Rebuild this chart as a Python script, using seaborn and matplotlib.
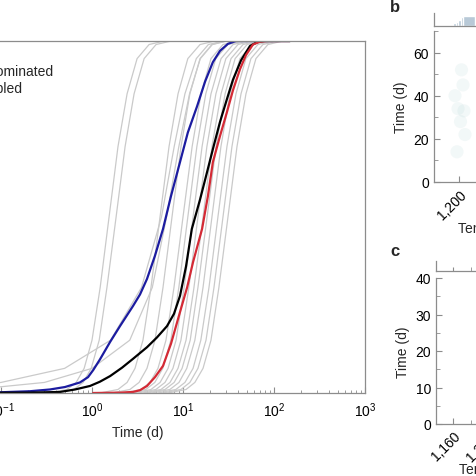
"""Cumulative fraction of time curves (panel a) with temperature-time panels (b, c), cropped."""
import matplotlib
matplotlib.use("Agg")
import matplotlib.pyplot as plt
import matplotlib.ticker as mticker
import numpy as np
import pandas as pd
import seaborn as sns

# ---- panel a data: cumulative fraction vs time (d) ----
blue_time = [0.01, 0.0975, 0.208, 0.345, 0.505, 0.738, 0.904, 1.03, 1.22, 1.58, 2.03, 2.82, 3.37,
             4.02, 4.92, 6.03, 7.39, 9.27, 11.3, 14.3, 17.5, 21.3, 25.5, 31.2, 38.2, 150]
blue_frac = [0.0, 0.002, 0.005, 0.01, 0.017, 0.03, 0.045, 0.065, 0.095, 0.145, 0.19, 0.247, 0.28,
             0.324, 0.39, 0.466, 0.56, 0.656, 0.74, 0.815, 0.885, 0.94, 0.972, 0.992, 1.0, 1.0]

black_time = [0.01, 0.208, 0.445, 0.65, 0.951, 1.22, 1.58, 2.14, 2.82, 4.02, 5.18, 6.67, 7.96, 9.27,
              10.8, 12.5, 15.4, 18.4, 21.9, 25.5, 30.4, 35.4, 43.4, 54.5, 66.7, 79.6, 150]
black_frac = [0.0, 0.001, 0.003, 0.01, 0.02, 0.032, 0.048, 0.072, 0.097, 0.13, 0.158, 0.19, 0.225,
              0.276, 0.36, 0.466, 0.55, 0.628, 0.705, 0.77, 0.835, 0.89, 0.945, 0.986, 0.998, 1.0, 1.0]

red_time = [1.03, 2.03, 2.82, 3.37, 4.02, 4.92, 6.03, 7.38, 9.27, 11.1, 12.9, 16.2, 18.8, 21.3,
            25.5, 30.4, 35.4, 42.3, 49.2, 58.7, 70.0, 83.7, 150]
red_frac = [0.0, 0.001, 0.003, 0.008, 0.02, 0.045, 0.077, 0.14, 0.23, 0.3, 0.372, 0.466, 0.56, 0.656,
            0.73, 0.798, 0.86, 0.92, 0.96, 0.99, 0.998, 1.0, 1.0]

gray_frac = [0, 0.01, 0.03, 0.07, 0.15, 0.3, 0.5, 0.7, 0.85, 0.95, 0.99, 1.0]
gray_times = [
    [0.34, 0.53, 0.67, 0.82, 1.0, 1.23, 1.54, 1.93, 2.43, 3.13, 4.24, 6.2],
    [0.40, 0.63, 0.80, 0.98, 1.2, 1.46, 1.84, 2.31, 2.9, 3.74, 5.06, 7.4],
    [0.01, 0.02, 0.1, 0.5, 1.6, 3.5, 5.8, 8.0, 10.5, 14.0, 19.0, 28.0],
    [0.01, 0.05, 0.3, 1.0, 2.6, 4.6, 6.6, 9.0, 11.8, 15.5, 21.0, 30.0],
    [1.22, 1.93, 2.43, 2.97, 3.63, 4.45, 5.59, 7.02, 8.82, 11.3, 15.4, 22.5],
    [1.66, 2.61, 3.29, 4.02, 4.92, 6.03, 7.57, 9.51, 11.9, 15.4, 20.8, 30.4],
    [2.19, 3.45, 4.34, 5.31, 6.5, 7.96, 10.0, 12.6, 15.8, 20.3, 27.5, 40.2],
    [2.47, 3.9, 4.9, 6.0, 7.35, 9.0, 11.3, 14.2, 17.8, 22.9, 31.1, 45.4],
    [2.83, 4.45, 5.6, 6.85, 8.39, 10.3, 12.9, 16.2, 20.3, 26.2, 35.5, 51.9],
    [3.2, 5.04, 6.34, 7.75, 9.49, 11.6, 14.6, 18.3, 23.0, 29.6, 40.2, 58.7],
    [3.64, 5.73, 7.2, 8.81, 10.8, 13.2, 16.6, 20.8, 26.2, 33.7, 45.7, 66.7],
    [4.03, 6.35, 7.99, 9.77, 12.0, 14.6, 18.4, 23.1, 29.0, 37.4, 50.6, 74.0],
    [4.56, 7.18, 9.03, 11.0, 13.5, 16.6, 20.8, 26.1, 32.8, 42.2, 57.2, 83.6],
    [5.3, 8.35, 10.5, 12.9, 15.7, 19.3, 24.2, 30.4, 38.2, 49.1, 66.6, 97.3],
    [6.02, 9.49, 11.9, 14.6, 17.9, 21.9, 27.5, 34.5, 43.4, 55.8, 75.6, 111],
    [6.83, 10.8, 13.5, 16.6, 20.3, 24.8, 31.2, 39.2, 49.2, 63.3, 85.8, 125],
]
legend_labels = ["Diffusion dominated", "Enabled"]

# ---- panels b, c data: faint temperature-time points ----
b_temp = [1192, 1198, 1203, 1208, 1212, 1196, 1205, 1210]
b_time = [40, 34, 28, 45, 22, 14, 52, 33]
b_hist_temp = [1195, 1200, 1205, 1210, 1215, 1220]
b_hist_count = [1, 2, 3, 5, 7, 8]

c_temp = [1195, 1200, 1205, 1198]
c_time = [20, 24, 17, 13]

BLUE = "#1c1ca0"
RED = "#d42a35"
GRAY = "#cacaca"
SPINE = "#8c8c8c"

sns.set_style("ticks")
plt.rcParams["font.family"] = ["Liberation Sans", "DejaVu Sans"]
plt.rcParams["mathtext.fontset"] = "custom"
plt.rcParams["mathtext.rm"] = "Liberation Sans"
plt.rcParams["font.size"] = 10

W, H = 476, 477
fig = plt.figure(figsize=(W / 100, H / 100), dpi=100)


def box(left, top, right, bottom):
    """Axes rectangle from pixel edges."""
    return [left / W, 1 - bottom / H, (right - left) / W, (bottom - top) / H]


def grey_spines(a, sides):
    for s in sides:
        a.spines[s].set_color(SPINE)
        a.spines[s].set_linewidth(0.9)


# ---------------- panel a ----------------
ax = fig.add_axes(box(-90, 42, 365, 394))
ax.set_xscale("log")

rows = []
for i, t_list in enumerate(gray_times):
    for t, f in zip(t_list, gray_frac):
        rows.append({"time": t, "frac": f, "curve": f"g{i}"})
gray_df = pd.DataFrame(rows)
sns.lineplot(data=gray_df, x="time", y="frac", units="curve", estimator=None,
             sort=False, color=GRAY, lw=0.9, ax=ax)

for t, f, c in [(blue_time, blue_frac, BLUE), (black_time, black_frac, "black"),
                (red_time, red_frac, RED)]:
    sns.lineplot(x=t, y=f, sort=False, estimator=None, color=c, lw=1.6, ax=ax)

ax.set_xlim(1e-2, 1e3)
ax.set_ylim(0, 1)
ax.set_yticks([])
ax.set_ylabel("")
ax.set_xlabel("Time (d)", fontsize=10, labelpad=5)
ax.xaxis.set_major_locator(mticker.LogLocator(base=10, numticks=10))
ax.xaxis.set_minor_locator(mticker.LogLocator(base=10, subs=np.arange(2, 10), numticks=10))
ax.tick_params(axis="x", which="both", direction="in", colors=SPINE, labelcolor="black",
               labelsize=10, pad=5)
ax.tick_params(axis="x", which="major", length=4)
ax.tick_params(axis="x", which="minor", length=2.5)
grey_spines(ax, ax.spines.keys())

fig.text(53 / W, 1 - 72 / H, legend_labels[0], ha="right", va="center", fontsize=10)
fig.text(23 / W, 1 - 89 / H, legend_labels[1], ha="right", va="center", fontsize=10)


def side_panel(top, bottom, left, xlim, ylim, yticks, yminor, xticks, xminor):
    a = fig.add_axes(box(left, top, left + 200, bottom))
    a.set_xlim(*xlim)
    a.set_ylim(*ylim)
    a.set_yticks(yticks)
    a.yaxis.set_minor_locator(mticker.FixedLocator(yminor))
    a.set_xticks(xticks)
    a.xaxis.set_minor_locator(mticker.FixedLocator(xminor))
    a.xaxis.set_major_formatter(mticker.FuncFormatter(lambda v, p: f"{int(v):,}"))
    plt.setp(a.get_xticklabels(), rotation=45, ha="right", rotation_mode="anchor")
    a.tick_params(which="both", direction="in", colors=SPINE, labelcolor="black", labelsize=10)
    a.tick_params(which="major", length=4)
    a.tick_params(which="minor", length=3)
    sns.despine(ax=a)
    grey_spines(a, ("left", "bottom"))
    a.set_ylabel("Time (d)", fontsize=10)
    a.set_xlabel("Temperature (°C)", fontsize=10, ha="left")
    return a


# ---------------- panel b ----------------
bx = side_panel(32, 183, 434, (1150, 1550), (0, 70), [0, 20, 40, 60], [10, 30, 50, 70],
                [1200, 1300, 1400, 1500], [])
sns.scatterplot(x=b_temp, y=b_time, color="#9cc7c8", alpha=0.12, s=90, edgecolor="none", ax=bx)
bx.xaxis.set_label_coords(24 / 200, -0.26)

bm = fig.add_axes(box(434, 14, 634, 27))
sns.barplot(x=b_hist_temp, y=b_hist_count, native_scale=True, color="#b3c9dc", width=4.5, ax=bm)
bm.set_xlim(1150, 1550)
bm.set_ylim(0, 10)
bm.set_xticks([])
bm.set_yticks([])
sns.despine(ax=bm)
grey_spines(bm, ("left", "bottom"))

# ---------------- panel c ----------------
c_left = 1160 - 17 * 40 / 35
c_lim = (c_left, c_left + 200 * 40 / 35)
cx = side_panel(279, 425, 436, c_lim, (0, 40), [0, 10, 20, 30, 40],
                [5, 15, 25, 35], [1160, 1200, 1240, 1280, 1320],
                [1180, 1220, 1260, 1300])
sns.scatterplot(x=c_temp, y=c_time, color="#9cc7c8", alpha=0.1, s=90, edgecolor="none", ax=cx)
cx.xaxis.set_label_coords(23 / 200, -0.26)

cm = fig.add_axes(box(436, 262, 636, 272))
cm.set_xlim(*c_lim)
cm.set_xticks([1160, 1200, 1240, 1280])
cm.xaxis.set_minor_locator(mticker.FixedLocator([1180, 1220, 1260]))
cm.set_yticks([])
cm.tick_params(which="both", direction="in", length=3, colors=SPINE, labelbottom=False)
sns.despine(ax=cm)
grey_spines(cm, ("left", "bottom"))

fig.text(390 / W, 1 - 8 / H, "b", fontsize=12, fontweight="bold", ha="left", va="center")
fig.text(390 / W, 1 - 252 / H, "c", fontsize=12, fontweight="bold", ha="left", va="center")

fig.savefig("out.png", dpi=100)
